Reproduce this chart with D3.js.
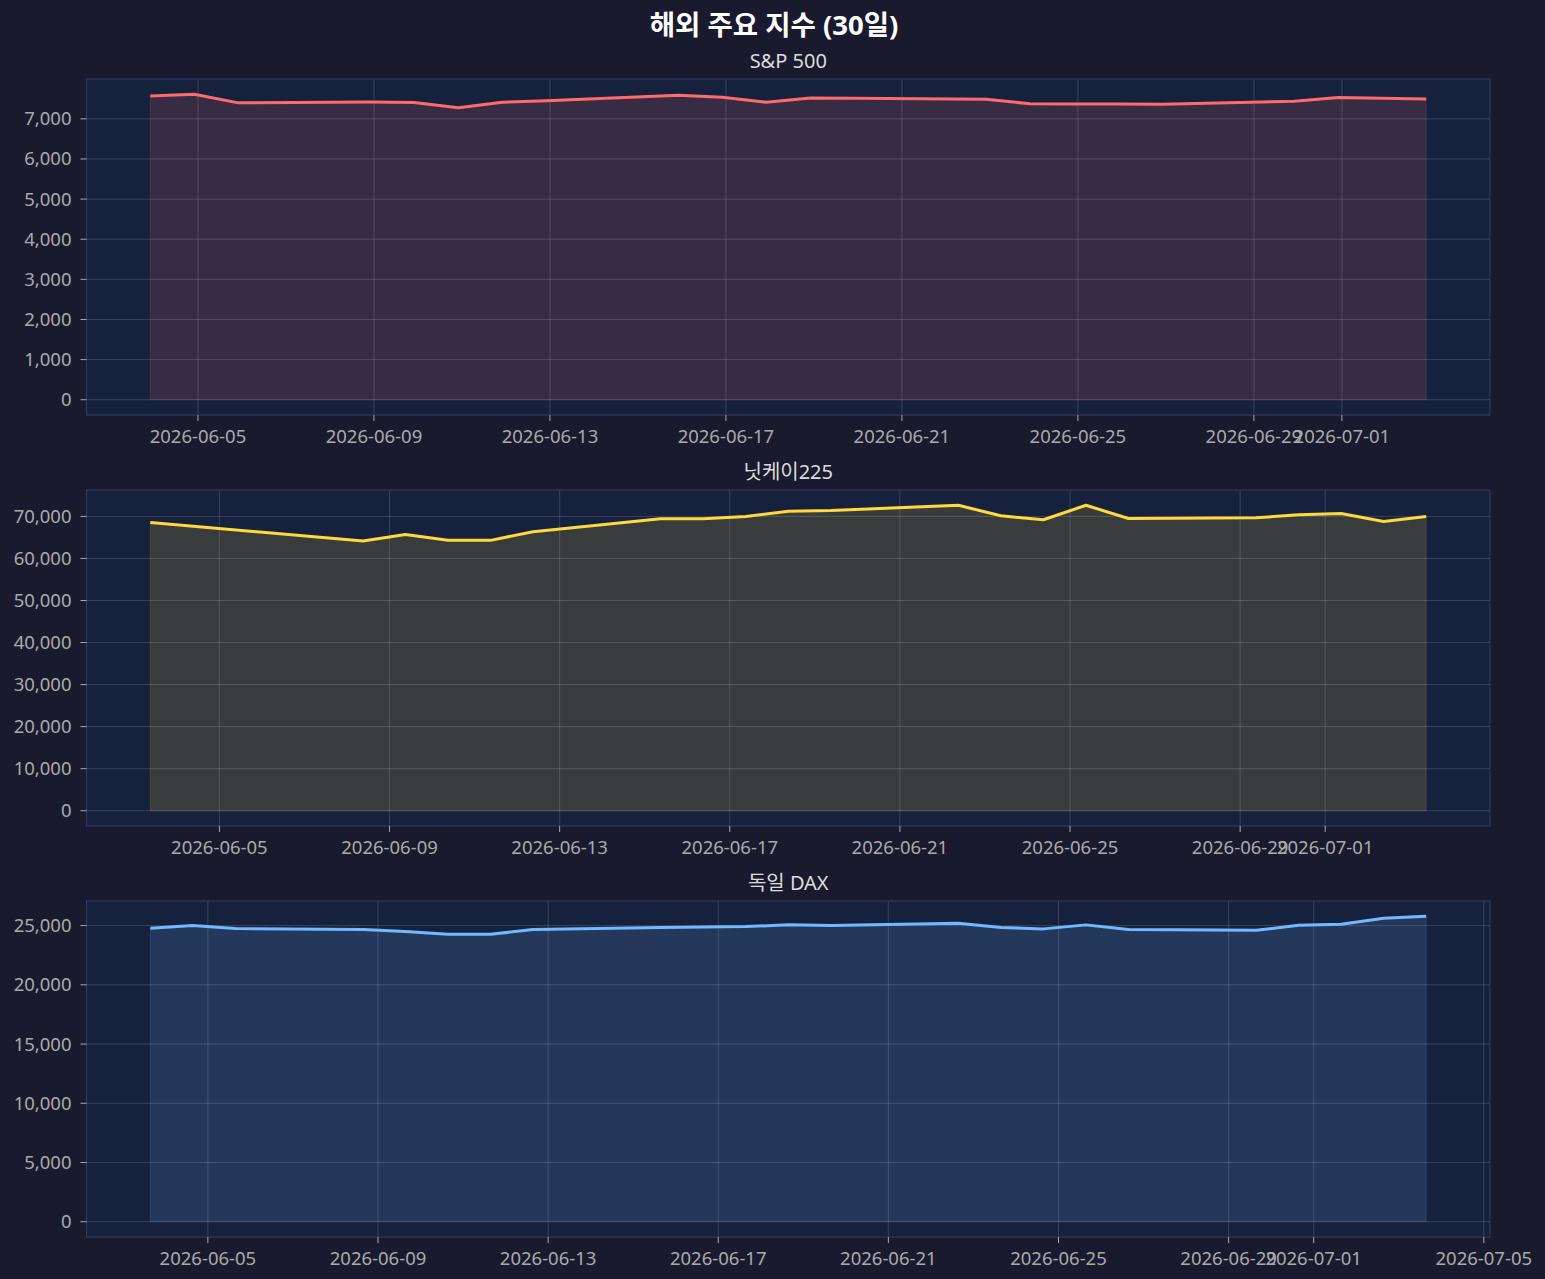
<!DOCTYPE html>
<html><head><meta charset="utf-8">
<script src="https://cdn.jsdelivr.net/npm/d3@7"></script>
<style>html,body{margin:0;padding:0;background:#1a1a2e;} svg{display:block;}</style>
</head><body><svg id="c" width="1545" height="1279"></svg>
<script>
// ---------- data ----------
const chartTitle = "해외 주요 지수 (30일)";
const seriesNames = ["S&P 500", "닛케이225", "독일 DAX"];
const seriesColors = ["#ff6b6b", "#ffd93d", "#74b9ff"];

const spDates = ["2026-06-03T22:00","2026-06-04T22:00","2026-06-05T22:00","2026-06-08T22:00","2026-06-09T22:00",
  "2026-06-10T22:00","2026-06-11T22:00","2026-06-12T22:00","2026-06-15T22:00","2026-06-16T22:00","2026-06-17T22:00",
  "2026-06-18T22:00","2026-06-19T22:00","2026-06-22T22:00","2026-06-23T22:00","2026-06-24T22:00","2026-06-25T22:00",
  "2026-06-26T22:00","2026-06-29T22:00","2026-06-30T22:00","2026-07-01T22:00","2026-07-02T22:00"];
const spValues = [7572,7612,7398,7420,7406,7274,7413,7450,7587,7537,7413,7522,7515,7488,7373,7370,7368,7363,7437,7530,7510,7497];

const nkDates = ["2026-06-03T09:00","2026-06-08T09:00","2026-06-09T09:00","2026-06-10T09:00","2026-06-11T09:00",
  "2026-06-12T09:00","2026-06-15T09:00","2026-06-16T09:00","2026-06-17T09:00","2026-06-18T09:00","2026-06-19T09:00",
  "2026-06-22T09:00","2026-06-23T09:00","2026-06-24T09:00","2026-06-25T09:00","2026-06-26T09:00","2026-06-29T09:00",
  "2026-06-30T09:00","2026-07-01T09:00","2026-07-02T09:00","2026-07-03T09:00"];
const nkValues = [68558,64137,65721,64303,64303,66359,69433,69433,69976,71229,71395,72648,70142,69196,72648,69504,69669,70400,70686,68794,69976];

const daxDates = ["2026-06-03T15:30","2026-06-04T15:30","2026-06-05T15:30","2026-06-08T15:30","2026-06-09T15:30",
  "2026-06-10T15:30","2026-06-11T15:30","2026-06-12T15:30","2026-06-15T15:30","2026-06-16T15:30","2026-06-17T15:30",
  "2026-06-18T15:30","2026-06-19T15:30","2026-06-22T15:30","2026-06-23T15:30","2026-06-24T15:30","2026-06-25T15:30",
  "2026-06-26T15:30","2026-06-29T15:30","2026-06-30T15:30","2026-07-01T15:30","2026-07-02T15:30","2026-07-03T15:30"];
const daxValues = [24772,25000,24747,24662,24493,24265,24265,24662,24831,24873,24916,25059,25000,25194,24831,24721,25059,24662,24603,25025,25110,25617,25785];

const xTickLabels = ["2026-06-01","2026-06-05","2026-06-09","2026-06-13","2026-06-17","2026-06-21","2026-06-25","2026-06-29","2026-07-01","2026-07-05"];
const spYTicks = [0,1000,2000,3000,4000,5000,6000,7000];
const nkYTicks = [0,10000,20000,30000,40000,50000,60000,70000];
const daxYTicks = [0,5000,10000,15000,20000,25000];

// ---------- layout / style ----------
const FONT = "'Noto Sans','Noto Sans CJK KR',sans-serif";
const L = 86.5, R = 1490, PH = 336;
const tops = [79, 490, 901];
const parseT = d3.utcParse("%Y-%m-%dT%H:%M");
const parseD = d3.utcParse("%Y-%m-%d");
const fmtD = d3.utcFormat("%Y-%m-%d");
const fmtN = d3.format(",");

const panels = [
  {dates: spDates, values: spValues, yt: spYTicks},
  {dates: nkDates, values: nkValues, yt: nkYTicks},
  {dates: daxDates, values: daxValues, yt: daxYTicks}
];

const svg = d3.select("#c");
svg.append("rect").attr("width",1545).attr("height",1279).attr("fill","#1a1a2e");

svg.append("text").attr("x",774).attr("y",35).attr("text-anchor","middle")
  .attr("font-family",FONT).attr("font-weight","bold").attr("font-size",27.5).attr("fill","#ffffff")
  .text(chartTitle);

panels.forEach((p,i) => {
  const top = tops[i], bot = top + PH;
  const data = p.dates.map((d,k) => ({t: parseT(d), v: p.values[k]}));
  const [t0,t1] = d3.extent(data, d => d.t);
  const span = t1 - t0;
  const x = d3.scaleUtc().domain([new Date(+t0 - 0.05*span), new Date(+t1 + 0.05*span)]).range([L,R]);
  const vmax = d3.max(data, d => d.v);
  const y = d3.scaleLinear().domain([-0.05*vmax, 1.05*vmax]).range([bot, top]);
  const col = seriesColors[i];
  const g = svg.append("g");

  g.append("rect").attr("x",L).attr("y",top).attr("width",R-L).attr("height",PH).attr("fill","#16213e");
  const cid = "clip"+i;
  g.append("clipPath").attr("id",cid).append("rect").attr("x",L).attr("y",top).attr("width",R-L).attr("height",PH);
  const inner = g.append("g").attr("clip-path",`url(#${cid})`);

  const area = d3.area().x(d => x(d.t)).y0(y(0)).y1(d => y(d.v));
  inner.append("path").datum(data).attr("d",area).attr("fill",col).attr("fill-opacity",0.15)
    .attr("stroke",col).attr("stroke-opacity",0.15).attr("stroke-width",1);

  const xt = xTickLabels.map(parseD).filter(d => d >= x.domain()[0] && d <= x.domain()[1]);
  // grid
  inner.selectAll(".gx").data(xt).enter().append("line")
    .attr("x1",d=>x(d)).attr("x2",d=>x(d)).attr("y1",top).attr("y2",bot)
    .attr("stroke","#ffffff").attr("stroke-opacity",0.15).attr("stroke-width",1);
  inner.selectAll(".gy").data(p.yt).enter().append("line")
    .attr("x1",L).attr("x2",R).attr("y1",d=>y(d)).attr("y2",d=>y(d))
    .attr("stroke","#ffffff").attr("stroke-opacity",0.15).attr("stroke-width",1);

  const line = d3.line().x(d => x(d.t)).y(d => y(d.v));
  inner.append("path").datum(data).attr("d",line).attr("fill","none").attr("stroke",col)
    .attr("stroke-width",3).attr("stroke-linejoin","round").attr("stroke-linecap","butt");

  // spines
  g.append("rect").attr("x",L).attr("y",top).attr("width",R-L).attr("height",PH)
    .attr("fill","none").attr("stroke","#363d5c").attr("stroke-width",1);

  // x ticks
  xt.forEach(d => {
    g.append("line").attr("x1",x(d)).attr("x2",x(d)).attr("y1",bot).attr("y2",bot+6)
      .attr("stroke","#aaaaaa").attr("stroke-width",1);
    g.append("text").attr("x",x(d)).attr("y",bot+28).attr("text-anchor","middle")
      .attr("font-family",FONT).attr("font-size",18.5).attr("fill","#aaaaaa").text(fmtD(d));
  });
  // y ticks
  p.yt.forEach(v => {
    g.append("line").attr("x1",L-6).attr("x2",L).attr("y1",y(v)).attr("y2",y(v))
      .attr("stroke","#aaaaaa").attr("stroke-width",1);
    g.append("text").attr("x",L-15).attr("y",y(v)+6.5).attr("text-anchor","end")
      .attr("font-family",FONT).attr("font-size",18.5).attr("fill","#aaaaaa").text(fmtN(v));
  });

  g.append("text").attr("x",(L+R)/2).attr("y",top-10.7).attr("text-anchor","middle")
    .attr("font-family",FONT).attr("font-size",20).attr("fill","#dddddd").text(seriesNames[i]);
});
</script>
</body></html>
